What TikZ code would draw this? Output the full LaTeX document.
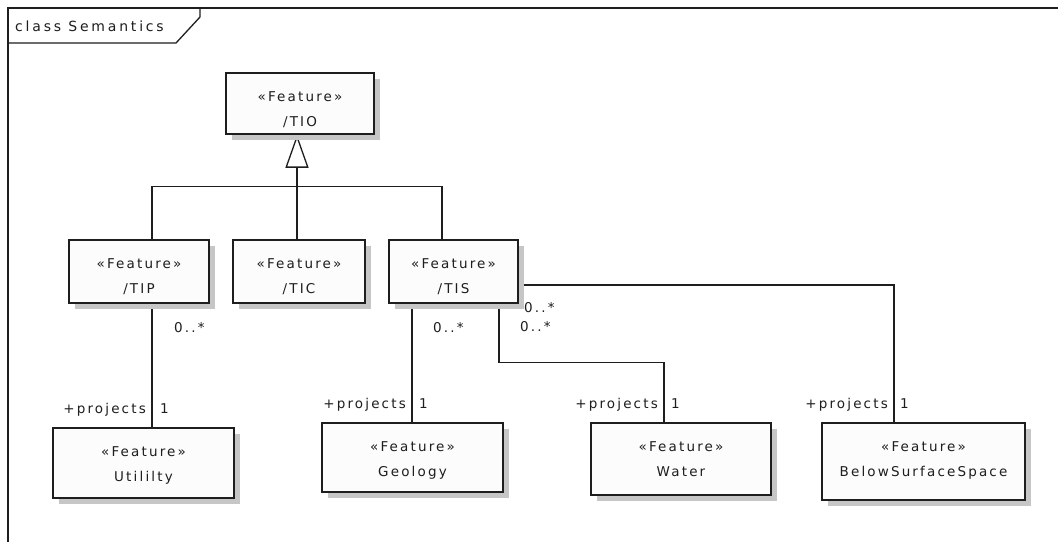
\documentclass[tikz,border=0pt]{standalone}
\usepackage{fontspec}
\newfontfamily\umlfont{DejaVu Sans}[LetterSpace=16]
\newfontfamily\framefont{DejaVu Sans}[LetterSpace=20]
\usetikzlibrary{arrows.meta,shadows,backgrounds}

\definecolor{linec}{HTML}{1E1E1E}
\definecolor{boxfill}{HTML}{FCFCFC}
\definecolor{shadowc}{HTML}{C6C6C6}

\tikzset{
  umlbox/.style={draw=linec, line width=1.5pt, fill=boxfill, inner sep=0pt,
    drop shadow={shadow xshift=6pt, shadow yshift=-6pt, fill=shadowc, opacity=1}},
  umltext/.style={anchor=base, inner sep=0pt, text=linec,
    font=\fontsize{13.5}{16}\selectfont\umlfont},
  mult/.style={umltext, anchor=base west},
  role/.style={umltext, anchor=base east},
  assoc/.style={draw=linec, line width=1.3pt},
  generalize/.style={assoc, -{Triangle[open, length=33pt, width=23pt, fill=white]}},
}

% #1 name, #2 centre x, #3 top y, #4 width, #5 height, #6 class name
\newcommand{\featurebox}[6]{%
  \node[umlbox, minimum width=#4, minimum height=#5] (#1) at (#2,{#3+#5/2}) {};
  \node[umltext] (#1-st) at (#2,{#3+28.5}) {«Feature»};
  \node[umltext] (#1-nm) at (#2,{#3+53}) {#6};}

\begin{document}
\begin{tikzpicture}[x=1pt, y=-1pt]
  \begin{pgfonlayer}{background}
    \fill[white] (0,0) rectangle (1058,542);
  \end{pgfonlayer}
  \useasboundingbox (0,0) rectangle (1058,542);

  % diagram frame with its name tab
  \draw[assoc] (8,542) -- (8,8) -- (1058,8);
  \draw[assoc] (8,43) -- (176,43) -- (200,17) -- (200,8);
  \node[anchor=base west, inner sep=0pt, text=linec,
        font=\fontsize{14}{16}\selectfont\framefont] (title) at (15,31.5) {class Semantics};

  % connectors, drawn first so the class boxes and shadows cover their ends
  \path (0,0) coordinate (origin);

  % classes
  \featurebox{tio}{300}{73}{148}{61}{/TIO}
  \featurebox{tip}{139}{240}{140}{63}{/TIP}
  \featurebox{tic}{299}{240}{132}{63}{/TIC}
  \featurebox{tis}{453.5}{240}{129}{63}{/TIS}
  \featurebox{utility}{143.5}{428}{181}{70}{Utililty}
  \featurebox{geology}{412.5}{423}{181}{69}{Geology}
  \featurebox{water}{681}{423}{180}{72}{Water}
  \featurebox{bss}{923.5}{423}{203}{77}{BelowSurfaceSpace}

  \begin{pgfonlayer}{background}
    % generalisation tree
    \draw[generalize] ([xshift=-2]tic.north) -- ([xshift=-3]tio.south);
    \draw[assoc] ([xshift=13]tip.north) -- ++(0,-53) -| ([xshift=-11.5]tis.north);

    % associations
    \draw[assoc] ([xshift=13]tip.south) -- ([xshift=13]tip.south |- utility.north);
    \draw[assoc] ([xshift=-41.5]tis.south) -- ([xshift=-41.5]tis.south |- geology.north);
    \draw[assoc] ([xshift=45.5]tis.south) -- ++(0,59) -| ([xshift=-17]water.north);
    \draw[assoc] ([yshift=-13.5]tis.east) -| ([xshift=-29.5]bss.north);
  \end{pgfonlayer}

  % multiplicities and roles
  \node[mult] (m-tip) at (174,332.3) {0..*};
  \node[role] (r-util) at (146,413.3) {+projects};
  \node[mult] (o-util) at (160,413.3) {1};

  \node[mult] (m-geo) at (433,332.3) {0..*};
  \node[role] (r-geo) at (406,408.3) {+projects};
  \node[mult] (o-geo) at (419,408.3) {1};

  \node[mult] (m-bss) at (524,312.3) {0..*};
  \node[mult] (m-wat) at (520,331.7) {0..*};

  \node[role] (r-wat) at (658,408.3) {+projects};
  \node[mult] (o-wat) at (671,408.3) {1};

  \node[role] (r-bss) at (888,408.3) {+projects};
  \node[mult] (o-bss) at (900,408.3) {1};
\end{tikzpicture}
\end{document}
